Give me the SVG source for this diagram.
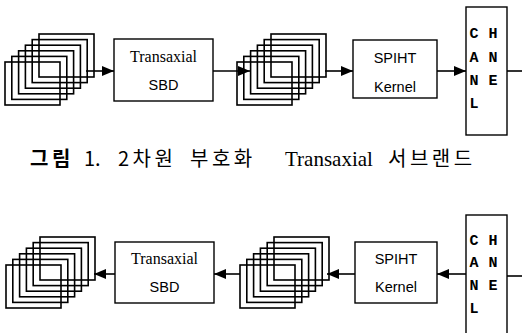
<svg xmlns="http://www.w3.org/2000/svg" xmlns:xlink="http://www.w3.org/1999/xlink" width="522" height="333" viewBox="0 0 522 333">
<style>
.stk rect{fill:none;stroke:#000;stroke-width:1.6}
.box{fill:#fff;stroke:#000;stroke-width:1.4}
.ln{fill:none;stroke:#000;stroke-width:1.6}
.ser{font-family:"Liberation Serif","Times New Roman",serif;font-size:16px;fill:#000}
.san{font-family:"Liberation Sans",Arial,sans-serif;font-size:14.5px;fill:#000}
.ch{font-family:"Liberation Mono","DejaVu Sans Mono",monospace;font-size:15px;font-weight:bold;fill:#000}
.cap{font-family:"Noto Sans CJK KR","Noto Sans",sans-serif;font-size:20px;letter-spacing:3.5px;fill:#000}
.num{font-family:"Noto Sans CJK KR","Noto Sans",sans-serif;font-size:20px;fill:#000}
.capt{font-family:"Liberation Serif","Noto Sans CJK KR",serif;font-size:21px;fill:#000}
</style>
<defs>
<marker id="ah" viewBox="0 0 12 10" refX="12" refY="5" markerWidth="12" markerHeight="10" markerUnits="userSpaceOnUse" orient="auto">
<path d="M0,0 L12,5 L0,10 Z" fill="#000"/>
</marker>
<g id="stackShape" class="stk">
<rect x="34" y="0" width="55" height="43"/>
<rect x="27.2" y="5.6" width="55" height="43"/>
<rect x="20.4" y="11.2" width="55" height="43"/>
<rect x="13.6" y="16.8" width="55" height="43"/>
<rect x="6.8" y="22.4" width="55" height="43"/>
<rect x="0" y="28" width="55" height="43"/>
</g>
</defs>

<g id="connectors">
<line class="ln" x1="86" y1="71" x2="114" y2="71" marker-end="url(#ah)"/>
<line class="ln" x1="213" y1="71" x2="250" y2="71" marker-end="url(#ah)"/>
<line class="ln" x1="325" y1="71" x2="353" y2="71" marker-end="url(#ah)"/>
<line class="ln" x1="437" y1="71" x2="466" y2="71" marker-end="url(#ah)"/>
<line class="ln" x1="507" y1="71" x2="522" y2="71"/>
<line class="ln" x1="115" y1="274" x2="94" y2="274" marker-end="url(#ah)"/>
<line class="ln" x1="240" y1="274" x2="214" y2="274" marker-end="url(#ah)"/>
<line class="ln" x1="355" y1="274" x2="327" y2="274" marker-end="url(#ah)"/>
<line class="ln" x1="466" y1="274" x2="437" y2="274" marker-end="url(#ah)"/>
<line class="ln" x1="507" y1="276" x2="522" y2="276"/>
</g>

<g id="stack1"><use xlink:href="#stackShape" transform="translate(5,34)"/></g>
<g id="transaxial1">
<rect class="box" x="114" y="39" width="99" height="62"/>
<text class="ser" x="163.5" y="62" text-anchor="middle">Transaxial</text>
<text class="san" x="163.5" y="90" text-anchor="middle">SBD</text>
</g>
<g id="stack2"><use xlink:href="#stackShape" transform="translate(237,34)"/></g>
<g id="spiht1">
<rect class="box" x="353" y="40" width="84" height="58"/>
<text class="san" x="395" y="63" text-anchor="middle">SPIHT</text>
<text class="san" x="395" y="92" text-anchor="middle">Kernel</text>
</g>
<g id="channel1">
<rect class="box" x="466" y="7" width="41" height="128"/>
<text class="ch" x="474" y="38" text-anchor="middle">C</text>
<text class="ch" x="493" y="38" text-anchor="middle">H</text>
<text class="ch" x="474" y="62" text-anchor="middle">A</text>
<text class="ch" x="493" y="62" text-anchor="middle">N</text>
<text class="ch" x="474" y="85" text-anchor="middle">N</text>
<text class="ch" x="493" y="85" text-anchor="middle">E</text>
<text class="ch" x="474" y="108" text-anchor="middle">L</text>
</g>

<g id="caption">
<text class="cap" x="30" y="166" font-weight="bold">그림</text>
<text class="num" x="84" y="166">1.</text>
<text class="cap" x="118" y="166">2차원</text>
<text class="cap" x="190" y="166">부호화</text>
<text class="capt" x="285" y="166">Transaxial</text>
<text class="cap" x="388" y="166">서브랜드</text>
</g>

<g id="stack3"><use xlink:href="#stackShape" transform="translate(6,237)"/></g>
<g id="transaxial2">
<rect class="box" x="115" y="242" width="99" height="61"/>
<text class="ser" x="164.5" y="264" text-anchor="middle">Transaxial</text>
<text class="san" x="164.5" y="292" text-anchor="middle">SBD</text>
</g>
<g id="stack4"><use xlink:href="#stackShape" transform="translate(240,237)"/></g>
<g id="spiht2">
<rect class="box" x="355" y="242" width="82" height="61"/>
<text class="san" x="396" y="264" text-anchor="middle">SPIHT</text>
<text class="san" x="396" y="292" text-anchor="middle">Kernel</text>
</g>
<g id="channel2">
<rect class="box" x="466" y="215" width="41" height="130"/>
<text class="ch" x="474" y="245" text-anchor="middle">C</text>
<text class="ch" x="493" y="245" text-anchor="middle">H</text>
<text class="ch" x="474" y="267" text-anchor="middle">A</text>
<text class="ch" x="493" y="267" text-anchor="middle">N</text>
<text class="ch" x="474" y="290" text-anchor="middle">N</text>
<text class="ch" x="493" y="290" text-anchor="middle">E</text>
<text class="ch" x="474" y="313" text-anchor="middle">L</text>
</g>
</svg>
